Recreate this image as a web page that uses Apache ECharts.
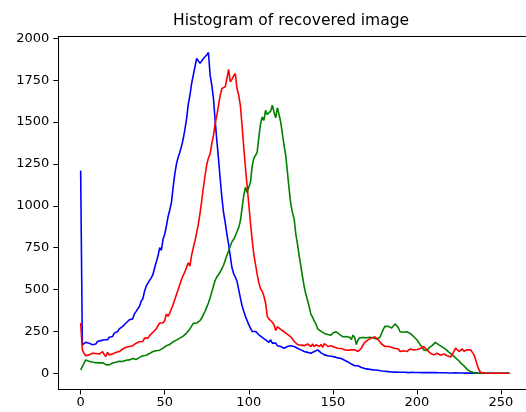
<!DOCTYPE html>
<html>
<head>
<meta charset="utf-8">
<script src="https://cdn.jsdelivr.net/npm/echarts@6/dist/echarts.min.js"></script>
<style>html,body{margin:0;padding:0;background:#fff;}#chart{width:526px;height:412px;}</style>
</head>
<body>
<div id="chart"></div>
<script>
const titleText = "Histogram of recovered image";
const xTicks = [0, 50, 100, 150, 200, 250];
const yTicks = [0, 250, 500, 750, 1000, 1250, 1500, 1750, 2000];

const blueValues = [
1210,170,175,185,190,180,175,170,180,175,
190,200,195,185,200,210,200,215,225,220,
240,230,250,265,260,280,290,300,295,320,
330,325,355,370,375,400,430,445,490,520,
525,555,570,590,630,665,700,750,735,800,
830,880,935,975,1020,1110,1190,1250,1290,1320,
1355,1400,1455,1520,1605,1660,1730,1780,1830,1880,
1888,1850,1860,1879,1890,1900,1915,1780,1720,1640,
1510,1390,1280,1160,1050,960,900,830,770,700,
630,595,575,550,500,450,405,370,340,315,
290,270,250,245,250,240,230,220,215,225,
200,195,185,200,180,170,180,165,170,160,
165,150,155,160,158,165,170,160,155,150,
145,140,135,130,128,125,122,120,125,130,
138,140,132,122,115,110,108,105,105,102,
100,98,95,92,90,88,82,78,70,68,
60,55,50,45,55,45,38,35,30,28,
27,25,24,22,22,20,20,18,16,14,
12,12,10,10,9,8,9,7,8,6,
7,6,5,6,5,4,5,6,4,5,
4,5,3,4,5,4,3,4,3,4,
3,4,3,3,4,3,2,3,3,2,
3,2,2,3,2,2,1,2,2,1,
2,1,1,1,1,1,0,1,0,0,
0,0,0,0,0,0,0,0,0,0,
0,0,0,0,0,0
];

const greenValues = [
20,40,60,80,75,72,68,66,70,64,
66,62,60,63,56,52,58,50,56,62,
60,66,76,72,74,70,80,78,84,80,
80,88,84,82,88,95,100,105,100,108,
115,118,125,130,128,135,140,138,145,150,
158,165,170,172,180,188,192,198,205,210,
218,222,230,240,252,265,282,298,305,300,
308,315,330,350,370,395,420,450,485,520,
555,575,590,605,625,645,675,705,730,760,
785,800,820,845,870,910,985,1060,1110,1080,
1075,1140,1235,1285,1300,1320,1410,1490,1530,1510,
1570,1545,1535,1565,1600,1560,1525,1585,1545,1500,
1430,1360,1300,1200,1100,1010,960,920,830,770,
700,640,575,515,470,435,395,350,335,310,
295,265,258,250,245,238,240,232,238,228,
240,232,248,240,232,236,218,210,220,226,
215,202,228,212,172,200,212,218,214,210,
212,208,215,205,212,210,205,210,215,222,
262,280,286,280,275,270,282,295,300,272,
248,240,245,250,248,244,238,230,220,210,
200,185,170,158,140,130,136,150,160,165,
170,185,178,170,165,158,150,144,138,126,
120,110,100,92,85,75,62,55,45,35,
22,15,10,6,3,1,0,0,0,0,
0,0,0,0,0,0,0,0,0,0,
0,0,0,0,0,0
];

const redValues = [
300,140,120,105,100,110,115,120,125,118,
110,115,120,130,112,100,125,110,100,115,
110,125,135,130,140,145,140,155,150,160,
158,165,175,180,190,188,195,190,210,215,
210,225,235,245,255,265,285,300,305,300,
315,355,340,360,385,410,440,470,500,530,
560,585,605,615,660,640,705,750,790,840,
890,955,1030,1110,1180,1245,1285,1310,1370,1420,
1490,1540,1600,1660,1700,1705,1710,1760,1815,1740,
1755,1775,1790,1700,1660,1600,1480,1350,1230,1120,
1010,900,800,710,650,590,540,505,490,460,
420,340,325,320,305,290,255,278,270,262,
255,248,240,232,225,218,205,190,180,172,
170,168,168,165,160,175,165,160,175,158,
170,165,160,172,155,178,180,160,170,165,
160,155,150,150,145,148,150,140,142,138,
135,140,145,140,132,130,128,150,170,185,
190,200,205,210,212,218,215,200,190,175,
165,160,162,160,158,155,150,148,150,145,
130,120,135,132,130,140,145,142,140,138,
142,140,148,155,160,150,140,130,120,118,
110,112,120,118,108,110,115,110,105,100,
98,110,130,150,145,130,140,145,132,130,
140,138,140,125,110,80,45,20,5,0,
0,0,0,0,0,0,0,0,0,0,
0,0,0,0,0,0
];

const FONT = "DejaVu Sans";
const toPairs = arr => arr.map((v, i) => [i, v]);

const chart = echarts.init(document.getElementById('chart'), null, {renderer: 'canvas'});
const mkSeries = (name, data, color) => ({
  name: name, type: 'line', data: toPairs(data), xAxisIndex: 0, yAxisIndex: 0,
  symbol: 'none', showSymbol: false, smooth: false, clip: true,
  lineStyle: {color: color, width: 1.6}, itemStyle: {color: color},
  emphasis: {disabled: true}
});

chart.setOption({
  animation: false,
  backgroundColor: '#ffffff',
  title: {
    text: titleText, left: 173, top: 13, padding: 0,
    textStyle: {fontFamily: FONT, fontSize: 15.5, fontWeight: 'normal', color: '#000'}
  },
  grid: {left: 58.3, top: 36.5, right: 0, bottom: 22.5, containLabel: false},
  xAxis: [{
    type: 'value', min: -13.3, max: 264.9, position: 'bottom',
    axisLine: {show: true, onZero: false, lineStyle: {color: '#000', width: 1}},
    axisTick: {show: true, length: 5, lineStyle: {color: '#000', width: 1}, customValues: xTicks},
    axisLabel: {customValues: xTicks, margin: 7, fontFamily: FONT, fontSize: 13, color: '#000',
      formatter: v => String(v)},
    splitLine: {show: false}
  }, {
    type: 'value', min: -13.3, max: 264.9, position: 'top',
    axisLine: {show: true, onZero: false, lineStyle: {color: '#000', width: 1}},
    axisTick: {show: false}, axisLabel: {show: false}, splitLine: {show: false}
  }],
  yAxis: {
    type: 'value', min: -96.7, max: 2010.7,
    axisLine: {show: true, onZero: false, lineStyle: {color: '#000', width: 1}},
    axisTick: {show: true, length: 5, lineStyle: {color: '#000', width: 1}, customValues: yTicks},
    axisLabel: {customValues: yTicks, margin: 9, fontFamily: FONT, fontSize: 13, color: '#000',
      formatter: v => String(v)},
    splitLine: {show: false}
  },
  series: [
    mkSeries('b', blueValues, '#0000ff'),
    mkSeries('g', greenValues, '#008000'),
    mkSeries('r', redValues, '#ff0000')
  ]
});
</script>
</body>
</html>
